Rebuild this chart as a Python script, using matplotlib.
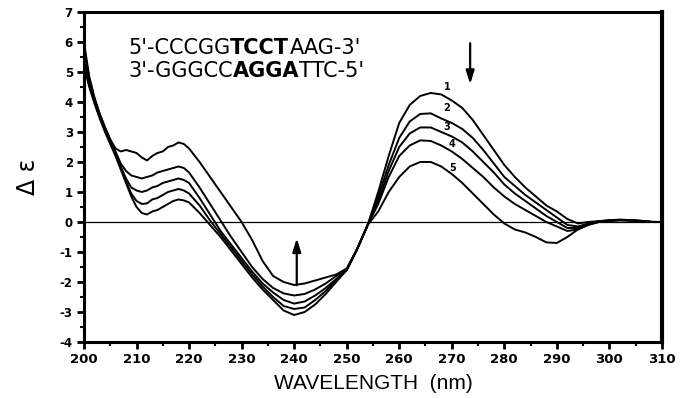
import matplotlib
matplotlib.use("Agg")
import matplotlib.pyplot as plt
from matplotlib.ticker import MultipleLocator

plt.rcParams["axes.unicode_minus"] = False

# CD spectra, curves 1-5
wl_short = [200, 201, 202, 203, 204, 205, 206, 207, 208, 209, 210, 211, 212, 213,
            214, 215, 216, 217, 218, 219, 220]
wl_long = [222, 224, 226, 228, 230, 232, 234, 236, 238, 240, 242, 244, 246, 248,
           250, 252, 254, 256, 258, 260, 262, 264, 266, 268, 270, 272, 274, 276,
           278, 280, 282, 284, 286, 288, 290, 292, 294, 296, 298, 300, 302, 304,
           306, 308, 310]
wavelength = wl_short + wl_long

curve1 = [5.2, 4.5, 3.95, 3.45, 3.0, 2.6, 2.2, 1.75, 1.3, 0.85, 0.5, 0.3, 0.25, 0.35,
          0.4, 0.5, 0.6, 0.7, 0.75, 0.72, 0.65,
          0.3, -0.1, -0.5, -0.95, -1.4, -1.85, -2.25, -2.6, -2.95, -3.1, -3.0, -2.75,
          -2.4, -2.0, -1.6, -0.9, -0.1, 1.0, 2.2, 3.3, 3.9, 4.2, 4.3, 4.25, 4.05,
          3.8, 3.4, 2.9, 2.4, 1.9, 1.5, 1.15, 0.85, 0.55, 0.35, 0.1, -0.05, 0.0,
          0.03, 0.06, 0.08, 0.06, 0.04, 0.0, 0.0]
curve2 = [5.4, 4.6, 4.0, 3.5, 3.05, 2.65, 2.25, 1.8, 1.35, 0.95, 0.7, 0.6, 0.62, 0.75,
          0.8, 0.9, 1.0, 1.05, 1.1, 1.05, 0.95,
          0.55, 0.05, -0.4, -0.85, -1.3, -1.75, -2.15, -2.5, -2.8, -2.9, -2.85, -2.6,
          -2.3, -1.95, -1.6, -0.9, -0.1, 0.85, 1.9, 2.8, 3.35, 3.6, 3.62, 3.45, 3.3,
          3.1, 2.8, 2.4, 1.95, 1.5, 1.2, 0.9, 0.65, 0.4, 0.15, -0.1, -0.15, -0.05,
          0.02, 0.05, 0.07, 0.06, 0.04, 0.01, 0.0]
curve3 = [5.6, 4.7, 4.05, 3.55, 3.1, 2.7, 2.3, 1.85, 1.45, 1.15, 1.05, 1.0, 1.05, 1.15,
          1.2, 1.3, 1.35, 1.4, 1.45, 1.4, 1.3,
          0.8, 0.25, -0.3, -0.75, -1.2, -1.65, -2.05, -2.35, -2.6, -2.72, -2.65,
          -2.45, -2.2, -1.9, -1.6, -0.9, -0.1, 0.7, 1.7, 2.5, 2.95, 3.15, 3.15, 3.0,
          2.85, 2.65, 2.35, 2.0, 1.65, 1.25, 0.95, 0.7, 0.45, 0.2, 0.0, -0.2, -0.2,
          -0.05, 0.02, 0.05, 0.06, 0.05, 0.03, 0.0, 0.0]
curve4 = [5.8, 4.8, 4.1, 3.6, 3.15, 2.75, 2.35, 1.95, 1.7, 1.55, 1.5, 1.45, 1.5, 1.55,
          1.65, 1.7, 1.75, 1.8, 1.85, 1.8, 1.65,
          1.15, 0.6, 0.05, -0.5, -1.0, -1.5, -1.9, -2.2, -2.38, -2.45, -2.4, -2.25,
          -2.05, -1.8, -1.6, -0.9, -0.1, 0.6, 1.5, 2.2, 2.55, 2.72, 2.7, 2.55, 2.35,
          2.1, 1.8, 1.5, 1.15, 0.85, 0.6, 0.4, 0.2, 0.0, -0.15, -0.3, -0.25, -0.1,
          0.0, 0.04, 0.06, 0.05, 0.03, 0.0, 0.0]
curve5 = [6.0, 4.85, 4.15, 3.6, 3.15, 2.75, 2.45, 2.35, 2.4, 2.35, 2.3, 2.15, 2.05, 2.2,
          2.3, 2.35, 2.5, 2.55, 2.65, 2.6, 2.45,
          2.0, 1.5, 1.0, 0.5, 0.0, -0.6, -1.3, -1.8, -2.0, -2.1, -2.05, -1.95, -1.85,
          -1.75, -1.55, -0.9, -0.1, 0.35, 1.0, 1.5, 1.85, 2.0, 2.0, 1.85, 1.6, 1.3,
          0.95, 0.6, 0.25, -0.05, -0.25, -0.35, -0.5, -0.68, -0.7, -0.5, -0.25,
          -0.08, 0.0, 0.04, 0.06, 0.05, 0.03, 0.0, 0.0]
curves = [curve1, curve2, curve3, curve4, curve5]

curve_labels = ["1", "2", "3", "4", "5"]
label_x = [269.1, 269.1, 269.1, 270.0, 270.2]
label_y = [4.5, 3.8, 3.15, 2.6, 1.8]

fig = plt.figure(figsize=(6.81, 3.98), dpi=100)
ax = fig.add_axes([0.1233, 0.1407, 0.8487, 0.8293])

for c in curves:
    ax.plot(wavelength, c, color="black", lw=1.4)

ax.axhline(0, color="black", lw=0.9)

for lab, x, y in zip(curve_labels, label_x, label_y):
    ax.text(x, y, lab, fontsize=7, fontweight="bold", ha="center", va="center")

# arrows showing the trend 1 -> 5
ax.annotate("", xy=(273.5, 4.5), xytext=(273.5, 6.05),
            arrowprops=dict(arrowstyle="-|>,head_length=0.8,head_width=0.25",
                            color="black", lw=1.6))
ax.annotate("", xy=(240.5, -0.45), xytext=(240.5, -2.2),
            arrowprops=dict(arrowstyle="-|>,head_length=0.8,head_width=0.25",
                            color="black", lw=1.6))

# sequence text, bold core
seq_font = dict(fontsize=15, family="DejaVu Sans", va="bottom")
t = ax.text(208.4, 5.45, "5'-CCCGG", **seq_font)
t = ax.annotate("TCCT", xy=(1, 0), xycoords=t, fontweight="bold", **seq_font)
ax.annotate("AAG-3'", xy=(1, 0), xycoords=t, **seq_font)
t = ax.text(208.4, 4.71, "3'-GGGCC", **seq_font)
t = ax.annotate("AGGA", xy=(1, 0), xycoords=t, fontweight="bold", **seq_font)
ax.annotate("TTC-5'", xy=(1, 0), xycoords=t, **seq_font)

ax.set_xlim(200, 310)
ax.set_ylim(-4, 7)
ax.xaxis.set_major_locator(MultipleLocator(10))
ax.xaxis.set_minor_locator(MultipleLocator(5))
ax.yaxis.set_major_locator(MultipleLocator(1))
ax.yaxis.set_minor_locator(MultipleLocator(0.5))
ax.tick_params(which="major", direction="out", length=5, width=2, pad=3)
ax.tick_params(which="minor", direction="out", length=3, width=1.5)
for lab in ax.get_xticklabels():
    lab.set_fontweight("bold")
    lab.set_fontsize(9.5)
for lab in ax.get_yticklabels():
    lab.set_fontweight("bold")
    lab.set_fontsize(8.5)

for side in ["left", "bottom", "top"]:
    ax.spines[side].set_linewidth(2.2)
ax.spines["right"].set_linewidth(3)

ax.set_xlabel("WAVELENGTH  (nm)", fontsize=15, family="Liberation Sans", labelpad=6)
ax.set_ylabel("\u0394 \u03b5", fontsize=17, labelpad=14)

fig.savefig("out.png", dpi=100)
